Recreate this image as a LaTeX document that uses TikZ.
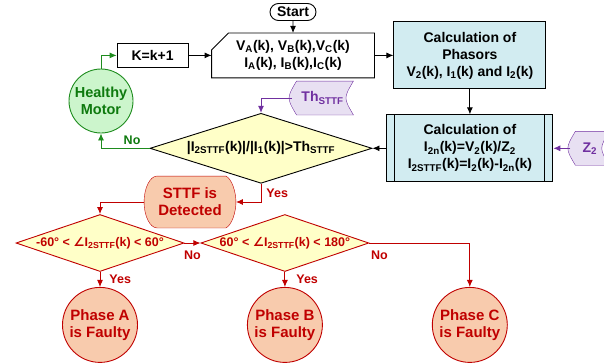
\documentclass[tikz,border=0pt]{standalone}
\usepackage{fontspec}
\setmainfont{Liberation Sans}
\newfontfamily\angfont{DejaVu Sans}
\usetikzlibrary{arrows.meta, positioning, shapes.geometric, shapes.misc, backgrounds}

\definecolor{faultred}{HTML}{C00000}
\definecolor{faultfill}{HTML}{F8CBAD}
\definecolor{condyellow}{HTML}{FFFFC8}
\definecolor{calcblue}{HTML}{D2ECF1}
\definecolor{okgreen}{HTML}{1E8C1E}
\definecolor{okfill}{HTML}{CCF5CC}
\definecolor{oktext}{HTML}{0E7A0E}
\definecolor{datapurple}{HTML}{7030A0}
\definecolor{datafill}{HTML}{E8E0F2}

\newcommand{\lo}[1]{\textsubscript{#1}}
\newcommand{\ang}{{\angfont ∠}}

\begin{document}
\begin{tikzpicture}[x=1pt, y=-1pt, line width=0.9pt,
    >={Latex[length=7pt,width=6pt]},
    base/.style={align=center, inner sep=0pt, font=\fontsize{14}{17}\selectfont\bfseries},
    terminal/.style={base, rounded rectangle, draw, minimum width=46pt, minimum height=17pt},
    inbox/.style={base, rectangle, minimum width=162pt, minimum height=44pt},
    plainbox/.style={base, rectangle, draw, minimum width=71pt, minimum height=24pt},
    calcbox/.style={base, rectangle, draw, fill=calcblue, minimum width=152pt, minimum height=67pt},
    decision/.style={base, diamond, draw, fill=condyellow, aspect=3.2,
        minimum width=222pt, minimum height=70pt},
    datain/.style={base, text=datapurple, minimum width=61pt, minimum height=33pt},
    okstate/.style={base, circle, draw=okgreen, fill=okfill, text=oktext,
        font=\fontsize{14.5}{17}\selectfont\bfseries, minimum size=64pt},
    display/.style={base, text=faultred, font=\fontsize{15}{17}\selectfont\bfseries,
        minimum width=91pt, minimum height=51pt},
    anglecheck/.style={decision, draw=faultred, text=faultred, aspect=2.9,
        font=\fontsize{12.5}{14}\selectfont\bfseries, minimum width=168pt, minimum height=57pt},
    faulty/.style={base, circle, draw=faultred, fill=faultfill, text=faultred,
        font=\fontsize{15}{16.5}\selectfont\bfseries, minimum size=75pt},
    answer/.style={font=\fontsize{12.5}{14}\selectfont\bfseries, inner sep=1pt}]

    \useasboundingbox (0,0) rectangle (604,362);

    \node[terminal] (start) at (293,12) {Start};

    \node[inbox] (input) [below=12pt of start]
          {V\lo{A}(k), V\lo{B}(k),V\lo{C}(k)\\I\lo{A}(k), I\lo{B}(k),I\lo{C}(k)};
    \draw ([yshift=-17pt]input.north west) -- ([xshift=17pt]input.north west)
          -- (input.north east) -- (input.south east) -- (input.south west) -- cycle;

    \node[plainbox] (incr) [left=23pt of input] {K=k+1};

    \node[calcbox] (phasor) [right=19pt of input]
          {Calculation of\\Phasors\\V\lo{2}(k), I\lo{1}(k) and I\lo{2}(k)};

    \node[calcbox, minimum width=166pt] (calc) [below=25pt of phasor]
          {Calculation of\\I\lo{2n}(k)=V\lo{2}(k)/Z\lo{2}\\I\lo{2STTF}(k)=I\lo{2}(k)-I\lo{2n}(k)};
    \draw ([xshift=8pt]calc.north west) -- ([xshift=8pt]calc.south west);
    \draw ([xshift=-9pt]calc.north east) -- ([xshift=-9pt]calc.south east);

    \node[datain, minimum width=38pt] (z_2) [right=17pt of calc] {Z\lo{2}};

    \node[decision] (cond) [left=14pt of calc]
          {|I\lo{2STTF}(k)|/|I\lo{1}(k)|>Th\lo{STTF}};

    \node[datain] (thr) at (322.5,98) {Th\lo{STTF}};

    \node[okstate] (healthy) at (101,101) {Healthy\\Motor};

    \node[display] (detect) at (190,202) {STTF is\\Detected};

    \node[anglecheck] (ang_1) at (100,243)
          {-60° < \ang I\lo{2STTF}(k) < 60°};
    \node[anglecheck] (ang_2) [right=16pt of ang_1]
          {60° < \ang I\lo{2STTF}(k) < 180°};

    \node[faulty] (ph_a) [below=15pt of ang_1] {Phase A\\is Faulty};
    \node[faulty] (ph_b) [below=15pt of ang_2] {Phase B\\is Faulty};
    \node[faulty] (ph_c) [right=109pt of ph_b] {Phase C\\is Faulty};

    % outlines of the odd shapes
    \begin{scope}[on background layer]
        \path[draw=datapurple, fill=datafill] ([xshift=5pt]thr.north west) -- (thr.north east)
            .. controls ([xshift=-10pt]thr.east) .. (thr.south east)
            -- ([xshift=5pt]thr.south west)
            .. controls ([xshift=-5pt]thr.west) .. cycle;
        \path[draw=datapurple, fill=datafill] ([xshift=5pt]z_2.north west) -- (z_2.north east)
            .. controls ([xshift=-10pt]z_2.east) .. (z_2.south east)
            -- ([xshift=5pt]z_2.south west)
            .. controls ([xshift=-5pt]z_2.west) .. cycle;
        \path[draw=faultred, fill=faultfill] ([xshift=13pt]detect.north west)
            -- ([xshift=-10pt]detect.north east)
            .. controls ([xshift=-4pt,yshift=-3pt]detect.north east) and ([yshift=10pt]detect.east) .. (detect.east)
            .. controls ([yshift=-10pt]detect.east) and ([xshift=-4pt,yshift=3pt]detect.south east) .. ([xshift=-10pt]detect.south east)
            -- ([xshift=13pt]detect.south west)
            .. controls ([xshift=6pt]detect.south west) and ([yshift=-14pt]detect.west) .. (detect.west)
            .. controls ([yshift=14pt]detect.west) and ([xshift=6pt]detect.north west) .. cycle;
    \end{scope}

    \draw[->] (start) -- (input);
    \draw[->] (incr) -- (input);
    \draw[->] (input) -- (phasor);
    \draw[->] (phasor) -- (calc);
    \draw[->] (calc) -- (cond);
    \draw[->, datapurple] (z_2) -- (calc);
    \draw[->, datapurple] (thr.west) -| (cond.north);

    \draw[->, okgreen] (cond.west) -| node[answer, pos=0.18, above=2pt, text=oktext] {No} (healthy.south);
    \draw[->, okgreen] (healthy.north) |- (incr.west);

    \draw[->, faultred] (cond.south) |- node[answer, pos=0.25, right=4pt] {Yes} (detect.east);
    \draw[->, faultred] (detect.west) -| (ang_1.north);
    \draw[->, faultred] (ang_1) -- node[answer, below=6pt] {No} (ang_2);
    \draw[->, faultred] (ang_2.east) -| node[answer, pos=0.05, below=6pt] {No} (ph_c.north);
    \draw[->, faultred] (ang_1) -- node[answer, right=8pt] {Yes} (ph_a);
    \draw[->, faultred] (ang_2) -- node[answer, right=10pt] {Yes} (ph_b);

\end{tikzpicture}
\end{document}
